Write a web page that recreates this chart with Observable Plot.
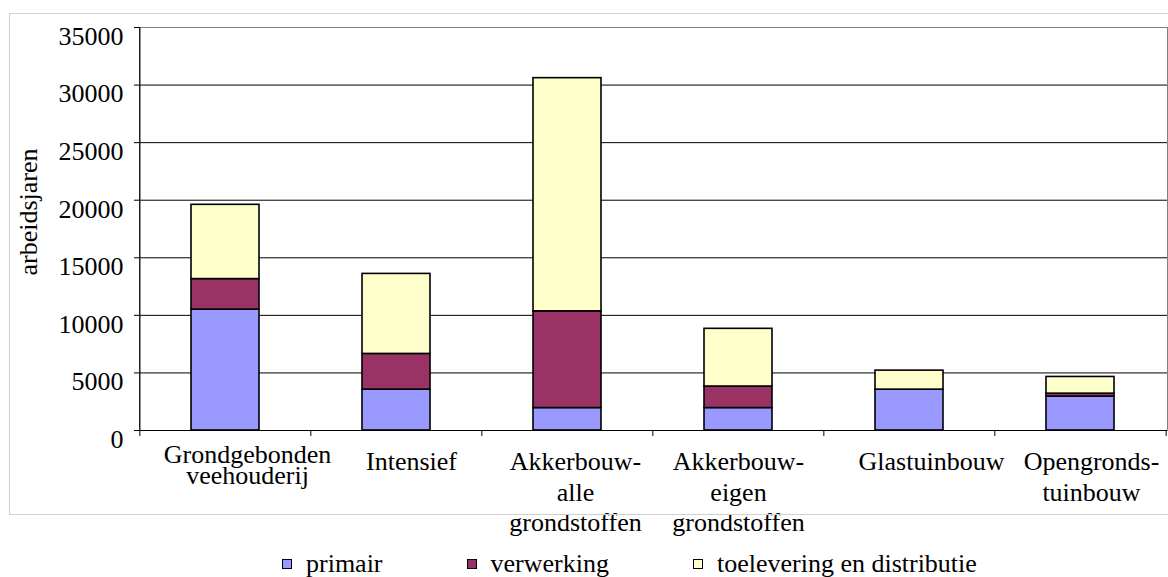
<!DOCTYPE html>
<html>
<head>
<meta charset="utf-8">
<script src="https://cdn.jsdelivr.net/npm/d3@7"></script>
<script src="https://cdn.jsdelivr.net/npm/@observablehq/plot@0.6"></script>
<style>
  html, body { margin: 0; padding: 0; background: #fff; }
  #wrap { position: relative; width: 1168px; height: 577px; overflow: hidden; }
  #border { position: absolute; left: 9px; top: 13px; width: 1170px; height: 502px; border: 1px solid #d0d0d0; box-sizing: border-box; pointer-events: none; z-index: 2; }
  #chart { position: absolute; left: 0; top: 0; }
  #legend { position: absolute; left: 282px; top: 551px; display: flex; align-items: center; height: 26px; line-height: 26px; font-size: 26px; color: #000; }
  .item { display: flex; align-items: center; margin-right: 84px; white-space: nowrap; }
  .sw { width: 10px; height: 10px; border: 1.5px solid #000; box-sizing: border-box; margin-right: 14px; }
</style>
</head>
<body>
<div id="wrap" style="font-family:'Liberation Serif'">
  <div id="chart"></div>
  <div id="border"></div>
  <div id="legend" style="font-family:'Liberation Serif'"></div>
</div>
<script>
// ---- data ----
const categories = [
  "Grondgebonden\nveehouderij",
  "Intensief",
  "Akkerbouw-\nalle\ngrondstoffen",
  "Akkerbouw-\neigen\ngrondstoffen",
  "Glastuinbouw",
  "Opengronds-\ntuinbouw"
];
const seriesNames = ["primair", "verwerking", "toelevering en distributie"];
const seriesColors = ["#9999FF", "#993366", "#FFFFCC"];
const primair     = [10500, 3550, 1950, 1950, 3550, 2950];
const verwerking  = [2650, 3100, 8400, 1870, 0, 250];
const toelevering = [6450, 6950, 20250, 5010, 1650, 1450];
const yTicks = [0, 5000, 10000, 15000, 20000, 25000, 30000, 35000];
const yLabel = "arbeidsjaren";

// ---- build table ----
const seriesValues = [primair, verwerking, toelevering];
const rows = [];
seriesNames.forEach((s, si) => {
  categories.forEach((c, ci) => rows.push({category: c, series: s, value: seriesValues[si][ci]}));
});

// ---- layout ----
const FONT = "Liberation Serif";
const W = 1168, H = 545, ML = 139, MR = 1, MT = 27, MB = 115;
const innerW = W - ML - MR;
const innerH = H - MT - MB;
const step = innerW / categories.length;
// the original's category labels sit slightly right of the band centres
const labelNudge = [22, 15, 8, 0, 22, 11];
const labelLineHeight = [0.8, 1.17, 1.17, 1.17, 1.17, 1.17];

const labelMarks = categories.map((c, i) =>
  Plot.text([c], {x: d => d, text: d => d, frameAnchor: "bottom", lineAnchor: "top",
    dx: labelNudge[i], dy: 18, lineHeight: labelLineHeight[i], fontSize: 26, fontFamily: FONT})
);

const chart = Plot.plot({
  width: W, height: H,
  marginLeft: ML, marginRight: MR, marginTop: MT, marginBottom: MB,
  style: {fontSize: "26px", fontFamily: FONT, background: "transparent", overflow: "visible", color: "#000"},
  x: {domain: categories, paddingInner: 0.6, paddingOuter: 0.3, axis: null},
  y: {domain: [0, 35000], axis: null},
  color: {domain: seriesNames, range: seriesColors},
  marks: [
    Plot.ruleY(yTicks.filter(d => d > 0 && d < 35000), {y: d => d, stroke: "#000", strokeWidth: 1}),
    Plot.frame({stroke: "#808080", strokeWidth: 1}),
    Plot.barY(rows, {x: "category", y: "value", fill: "series", stroke: "#000", strokeWidth: 1.6, order: seriesNames}),
    Plot.ruleY([0], {y: d => d, stroke: "#000", strokeWidth: 1.2}),
    Plot.ruleX([categories[0]], {x: d => d, dx: -step / 2, stroke: "#000", strokeWidth: 1.2}),
    // y ticks
    Plot.ruleY(yTicks, {y: d => d, stroke: "#000", insetLeft: -5, insetRight: innerW}),
    Plot.text(yTicks, {y: d => d, text: d => String(d), frameAnchor: "left", textAnchor: "end", dx: -16, dy: 9, fontSize: 26, fontFamily: FONT}),
    // x category boundary ticks
    Plot.ruleX(categories, {x: d => d, dx: -step / 2, stroke: "#000", insetTop: innerH, insetBottom: -6}),
    Plot.ruleX([categories[categories.length - 1]], {x: d => d, dx: step / 2, stroke: "#000", insetTop: innerH, insetBottom: -6}),
    // x labels
    ...labelMarks,
    // y label
    Plot.text([yLabel], {text: d => d, frameAnchor: "left", rotate: -90, dx: -110.5, dy: 46.5, fontSize: 26, fontFamily: FONT})
  ]
});
document.getElementById("chart").appendChild(chart);

// ---- legend ----
const legend = document.getElementById("legend");
seriesNames.forEach((s, i) => {
  const item = document.createElement("div");
  item.className = "item";
  const sw = document.createElement("span");
  sw.className = "sw";
  sw.style.background = seriesColors[i];
  const t = document.createElement("span");
  t.textContent = s;
  t.style.fontFamily = FONT;
  item.appendChild(sw);
  item.appendChild(t);
  legend.appendChild(item);
});
</script>
</body>
</html>
